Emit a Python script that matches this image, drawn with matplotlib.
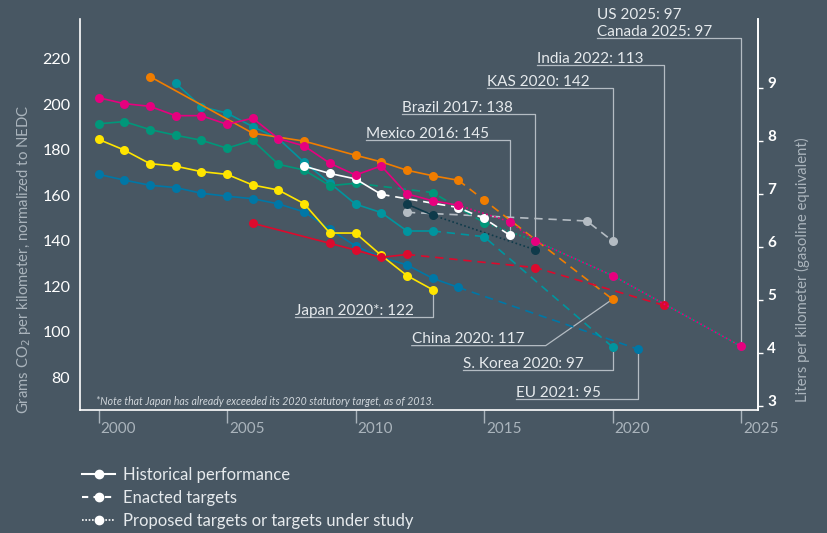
import numpy as np
import matplotlib.pyplot as plt
from matplotlib.lines import Line2D
import matplotlib.transforms as mtransforms

plt.rcParams["font.family"] = ["Lato", "DejaVu Sans"]

BG = "#485763"
LEAD = "#b4bcc3"
TXT = "#e6eaed"
GREY = "#aab4bc"

# ---- data (g CO2/km, NEDC) ----
eu_hist_years = list(range(2000, 2015))
eu_hist = [171.6, 169.1, 166.8, 165.8, 163.3, 162.0, 160.9, 158.6, 155.1, 147.5, 140.1, 135.1, 131.8, 125.9, 121.9]
eu_enact_years = [2014, 2021]
eu_enact = [121.9, 94.7]

jp_hist_years = list(range(2000, 2014))
jp_hist = [187.0, 182.3, 176.3, 175.2, 172.8, 171.6, 166.9, 164.7, 158.7, 145.8, 145.8, 136.0, 127.1, 120.9]

cn_hist_years = [2002, 2006, 2008, 2010, 2011, 2012, 2013, 2014]
cn_hist = [214.6, 189.7, 186.2, 180.0, 177.1, 173.4, 171.0, 169.0]
cn_enact_years = [2014, 2015, 2020]
cn_enact = [169.0, 160.3, 116.7]

kr_hist_years = list(range(2003, 2014))
kr_hist = [211.7, 201.4, 198.5, 192.6, 187.3, 176.9, 167.8, 158.5, 154.8, 146.7, 146.7]
kr_enact_years = [2013, 2015, 2020]
kr_enact = [146.7, 144.2, 95.7]

us_hist_years = list(range(2000, 2015))
us_hist = [205.3, 202.7, 201.5, 197.4, 197.4, 193.6, 196.3, 187.3, 184.1, 176.5, 171.3, 175.3, 163.0, 160.0, 158.0]
us_prop_years = [2014, 2016, 2017, 2020, 2025]
us_prop = [158.0, 150.8, 142.3, 127.1, 96.0]

ca_hist_years = list(range(2000, 2011))
ca_hist = [193.8, 194.8, 191.3, 188.8, 186.6, 183.1, 186.6, 176.0, 173.5, 166.6, 167.7]
ca_enact_years = [2010, 2013, 2015]
ca_enact = [167.7, 163.6, 150.4]
ca_prop_years = [2015, 2017, 2020, 2025]
ca_prop = [150.4, 142.3, 127.1, 96.0]

mx_hist_years = [2008, 2009, 2010, 2011]
mx_hist = [175.2, 172.0, 169.6, 162.8]
mx_enact_years = [2011, 2014, 2015, 2016]
mx_enact = [162.8, 157.0, 152.2, 144.9]

br_hist_years = [2012, 2013]
br_hist = [158.5, 153.7]
br_prop_years = [2013, 2017]
br_prop = [153.7, 138.4]

ks_enact_years = [2012, 2019, 2020]
ks_enact = [154.9, 151.1, 142.3]

in_hist_years = [2006, 2009, 2010, 2011, 2012]
in_hist = [150.1, 141.3, 138.3, 135.1, 136.4]
in_enact_years = [2012, 2017, 2022]
in_enact = [136.4, 130.6, 114.0]

# callouts: text, text x, baseline y, target year, target value, corner x
callouts = [
    ("Canada 2025: 97", 2019.40, 232.5, 2025, 96.0, None),
    ("India 2022: 113", 2017.06, 220.6, 2022, 114.0, None),
    ("KAS 2020: 142", 2015.12, 210.5, 2020, 142.3, None),
    ("Brazil 2017: 138", 2011.80, 199.2, 2017, 138.4, None),
    ("Mexico 2016: 145", 2010.41, 187.5, 2016, 144.9, None),
    ("Japan 2020*: 122", 2007.65, 109.8, 2013, 120.9, None),
    ("China 2020: 117", 2012.19, 97.3, 2020, 116.7, 2017.40),
    ("S. Korea 2020: 97", 2014.18, 86.5, 2020, 95.7, None),
    ("EU 2021: 95", 2016.24, 73.7, 2021, 94.7, None),
]

C_PINK = "#e6007e"
C_ORANGE = "#f07d00"
C_TEAL = "#00959f"
C_GREEN = "#00977a"
C_BLUE = "#0077a6"
C_YELLOW = "#ffe500"
C_RED = "#dc0a2d"
C_NAVY = "#0f3a4a"
C_KAS = "#b4bcc3"
C_WHITE = "#ffffff"

fig = plt.figure(figsize=(8.27, 5.33), dpi=100, facecolor=BG)
ax = fig.add_axes([80 / 827, 123 / 533, 678 / 827, 391 / 533], facecolor=BG)
ax.set_xlim(1999.28, 2025.66)
ax.set_ylim(68.0, 239.9)

MS = 6.5
LW = 1.2
DASH = (0, (5, 3.5))
DOT = (0, (1, 1.5))


def draw(xs, ys, color, style, z, marker_first=True):
    ax.plot(xs, ys, color=color, lw=LW, linestyle=style, zorder=z,
            dash_capstyle="butt")
    mx = xs if marker_first else xs[1:]
    my = ys if marker_first else ys[1:]
    ax.plot(mx, my, "o", color=color, ms=MS, mec="none", zorder=z + 0.5)


draw(ks_enact_years, ks_enact, C_KAS, DASH, 3)
draw(br_hist_years, br_hist, C_NAVY, "-", 3)
draw(br_prop_years, br_prop, C_NAVY, DOT, 3, False)
draw(eu_hist_years, eu_hist, C_BLUE, "-", 4)
draw(eu_enact_years, eu_enact, C_BLUE, DASH, 4, False)
draw(kr_hist_years, kr_hist, C_TEAL, "-", 4)
draw(kr_enact_years, kr_enact, C_TEAL, DASH, 4, False)
draw(ca_hist_years, ca_hist, C_GREEN, "-", 5)
draw(ca_enact_years, ca_enact, C_GREEN, DASH, 5, False)
draw(ca_prop_years, ca_prop, C_GREEN, DOT, 5, False)
draw(jp_hist_years, jp_hist, C_YELLOW, "-", 6)
draw(in_hist_years, in_hist, C_RED, "-", 7)
draw(in_enact_years, in_enact, C_RED, DASH, 7, False)
draw(cn_hist_years, cn_hist, C_ORANGE, "-", 6)
draw(cn_enact_years, cn_enact, C_ORANGE, DASH, 6, False)
draw(mx_hist_years, mx_hist, C_WHITE, "-", 7)
draw(mx_enact_years, mx_enact, C_WHITE, DASH, 7, False)
draw(us_hist_years, us_hist, C_PINK, "-", 8)
draw(us_prop_years, us_prop, C_PINK, DOT, 8, False)

# callouts with leader lines
UL = 1.0
ax.text(2019.40, 239.9, "US 2025: 97", color=TXT, fontsize=11, va="baseline",
        ha="left", clip_on=False)
for label, tx, ty, px, py, cx in callouts:
    ax.text(tx, ty, label, color=TXT, fontsize=11, va="baseline", ha="left",
            clip_on=False, zorder=10)
    corner = px if cx is None else cx
    ax.plot([tx, corner, px], [ty - UL, ty - UL, py], color=LEAD, lw=0.9,
            zorder=2, clip_on=False)

ax.text(0.024, 0.012, "*Note that Japan has already exceeded its 2020 statutory target, as of 2013.",
        transform=ax.transAxes, fontsize=7.6, style="italic", color="#d0d6db")

# spines
ax.spines["top"].set_visible(False)
for s in ["left", "bottom", "right"]:
    ax.spines[s].set_color("white")
    ax.spines[s].set_linewidth(1.2)

# x axis
ax.set_xticks([2000, 2005, 2010, 2015, 2020, 2025])
ax.tick_params(axis="x", length=9.4, width=1, color=GREY, pad=-0.8,
               labelsize=11, labelcolor=GREY)
offset = mtransforms.ScaledTranslation(2 / 100, 0, fig.dpi_scale_trans)
for lab in ax.get_xticklabels():
    lab.set_horizontalalignment("left")
    lab.set_transform(lab.get_transform() + offset)

# left y axis
ax.set_yticks(np.arange(80, 221, 20))
ax.tick_params(axis="y", length=0, pad=7, labelsize=11.5, labelcolor="white")
for lab in ax.get_yticklabels():
    lab.set_verticalalignment("baseline")
ax.set_ylabel("Grams CO$_2$ per kilometer, normalized to NEDC", color=GREY,
              fontsize=10.7)
ax.yaxis.set_label_coords(-0.069, 0.385)

# right y axis (liters)
sec = ax.secondary_yaxis("right", functions=(lambda g: g / 23.3, lambda l: l * 23.3))
sec.set_yticks(np.arange(3, 10))
sec.spines["right"].set_color("white")
sec.spines["right"].set_linewidth(1.2)
sec.tick_params(axis="y", length=3.6, width=1, color="white", pad=3,
                labelsize=11, labelcolor="white")
for lab in sec.get_yticklabels():
    lab.set_verticalalignment("baseline")
    lab.set_fontweight("bold")
sec.set_ylabel("Liters per kilometer (gasoline equivalent)", color=GREY,
               fontsize=10.7, rotation=90)
sec.yaxis.set_label_coords(1.055, 0.36, transform=ax.transAxes)

# legend
handles = [
    Line2D([], [], color="white", lw=1.5, ls="-", marker="o", ms=6),
    Line2D([], [], color="white", lw=1.5, ls=(0, (3, 2.5)), marker="o", ms=6),
    Line2D([], [], color="white", lw=1.2, ls=(0, (1, 1)), marker="o", ms=6),
]
labels = ["Historical performance", "Enacted targets",
          "Proposed targets or targets under study"]
leg = fig.legend(handles, labels, loc="upper left",
                 bbox_to_anchor=(82 / 827, 1 - 467 / 533), frameon=False,
                 fontsize=12, handlelength=2.0, handletextpad=0.45,
                 labelspacing=0.42, borderpad=0, borderaxespad=0)
for t in leg.get_texts():
    t.set_color(TXT)

fig.savefig("out.png", dpi=100, facecolor=BG)
